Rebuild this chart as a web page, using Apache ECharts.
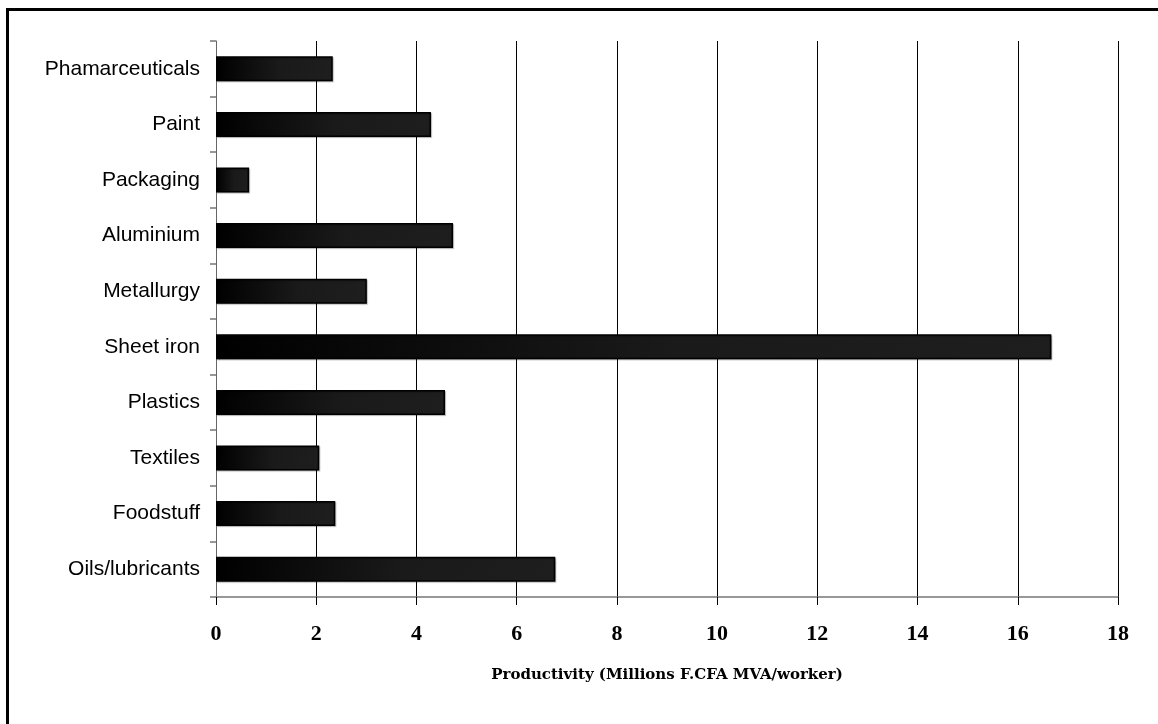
<!DOCTYPE html>
<html>
<head>
<meta charset="utf-8">
<script src="https://cdn.jsdelivr.net/npm/echarts@6/dist/echarts.min.js"></script>
<style>
html,body{margin:0;padding:0;background:#fff;}
#chart{width:1158px;height:724px;}
</style>
</head>
<body>
<div id="chart"></div>
<script>
var categories = ['Phamarceuticals','Paint','Packaging','Aluminium','Metallurgy','Sheet iron','Plastics','Textiles','Foodstuff','Oils/lubricants'];
var productivity = [2.33, 4.29, 0.66, 4.73, 3.01, 16.67, 4.57, 2.06, 2.38, 6.77];
var xTicks = [0, 2, 4, 6, 8, 10, 12, 14, 16, 18];
var xAxisTitle = 'Productivity (Millions F.CFA MVA/worker)';

var chart = echarts.init(document.getElementById('chart'), null, {renderer:'canvas'});
chart.setOption({
  animation: false,
  backgroundColor: '#fff',
  graphic: [
    {type:'line', shape:{x1:6, y1:9.5, x2:1158, y2:9.5}, style:{stroke:'#000', lineWidth:3}},
    {type:'line', shape:{x1:7.5, y1:8, x2:7.5, y2:724}, style:{stroke:'#000', lineWidth:3}}
  ],
  grid: {left:216, right:40, top:41, bottom:127, containLabel:false},
  xAxis: {
    type:'value', min:xTicks[0], max:xTicks[xTicks.length-1], interval:2,
    name: xAxisTitle, nameLocation:'middle', nameGap:71,
    nameTextStyle:{fontFamily:'DejaVu Serif', fontWeight:'bold', fontSize:15, color:'#000'},
    axisLine:{show:true, lineStyle:{color:'#777', width:1.5}},
    axisTick:{show:true, length:8, lineStyle:{color:'#000', width:1}},
    axisLabel:{margin:26, fontFamily:'Liberation Serif', fontWeight:'bold', fontSize:22, color:'#000'},
    splitLine:{show:true, lineStyle:{color:'#000', width:1}}
  },
  yAxis: {
    type:'category', data:categories, inverse:true,
    axisLine:{show:true, lineStyle:{color:'#666', width:1}},
    axisTick:{show:true, length:6, lineStyle:{color:'#777', width:1.5}},
    axisLabel:{margin:16, fontFamily:'Liberation Sans', fontSize:21, color:'#000'},
    splitLine:{show:false}
  },
  series: [{
    type:'bar', data:productivity, barWidth:25,
    itemStyle:{
      color:{type:'linear', x:0, y:0, x2:1, y2:0, colorStops:[
        {offset:0, color:'#000'}, {offset:0.55, color:'#1a1a1a'}, {offset:1, color:'#1e1e1e'}]},
      borderColor:'#000', borderWidth:1.5,
      shadowColor:'rgba(0,0,0,0.25)', shadowOffsetX:1, shadowOffsetY:1, shadowBlur:1
    }
  }]
});
</script>
</body>
</html>
